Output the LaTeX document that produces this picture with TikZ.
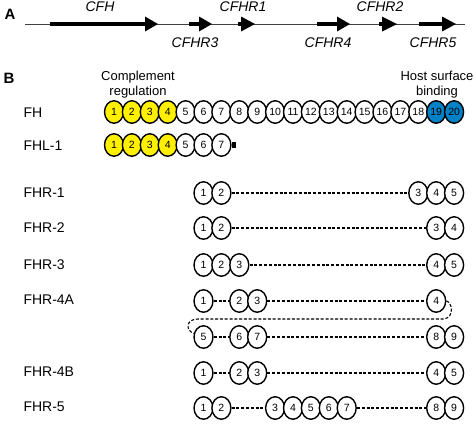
\documentclass[tikz,border=0pt]{standalone}
\usepackage{fontspec}
\setmainfont{Liberation Sans}
\usetikzlibrary{shapes.geometric}
\definecolor{dyel}{RGB}{255,240,0}
\definecolor{dblue}{RGB}{0,130,200}
\begin{document}
\begin{tikzpicture}[x=1pt,y=-1pt,
  dom/.style={ellipse, draw, line width=1.4pt, minimum width=19pt, minimum height=22.5pt, inner sep=0pt, fill=white, font=\fontsize{10.5}{11}\selectfont},
  ydom/.style={dom, fill=dyel},
  bdom/.style={dom, fill=dblue},
  lbl/.style={anchor=west, font=\fontsize{14}{16}\selectfont},
  note/.style={align=center, font=\fontsize{13}{15}\selectfont},
  gene/.style={font=\fontsize{14}{16}\selectfont\itshape},
  panel/.style={font=\fontsize{15}{17}\selectfont\bfseries},
  link/.style={line width=1.1pt, dash pattern=on 3pt off 1.8pt},
  genebar/.style={line width=4pt},
  chrom/.style={line width=0.8pt, black!75}]
\useasboundingbox (0,0) rectangle (475,426);

% ---------- Panel A ----------
\node[panel] (pA) at (10,14) {A};
\draw[chrom] (25,24) -- (465,24);
\draw[genebar] (50,24) -- (146,24);
\fill (145,16.5) -- (158,24) -- (145,31.5) -- cycle;
\draw[genebar] (189,24) -- (200,24);
\fill (199,16.5) -- (212,24) -- (199,31.5) -- cycle;
\draw[genebar] (238,24) -- (242,24);
\fill (241,16.5) -- (255,24) -- (241,31.5) -- cycle;
\draw[genebar] (317,24) -- (338,24);
\fill (337,16.5) -- (350,24) -- (337,31.5) -- cycle;
\draw[genebar] (379,24) -- (383,24);
\fill (382,16.5) -- (397,24) -- (382,31.5) -- cycle;
\draw[genebar] (419,24) -- (443,24);
\fill (442,16.5) -- (456,24) -- (442,31.5) -- cycle;
\node[gene] (gCFH) at (100,7) {CFH};
\node[gene] (gR1) at (243,7) {CFHR1};
\node[gene] (gR2) at (380,7) {CFHR2};
\node[gene] (gR3) at (195,43) {CFHR3};
\node[gene] (gR4) at (328,43) {CFHR4};
\node[gene] (gR5) at (433,43) {CFHR5};

% ---------- Panel B ----------
\node[panel] (pB) at (9,78) {B};
\node[note] (cr) at (138,85) {Complement\\regulation};
\node[note] (hs) at (437,85) {Host surface\\binding};

% FH
\node[lbl] (lFH) at (20,113) {FH};
\foreach \i in {1,...,20}{
  \ifnum\i<5 \def\st{ydom}\else\ifnum\i>18 \def\st{bdom}\else\def\st{dom}\fi\fi
  \node[\st] (fh\i) at ({114+(\i-1)*17.9},112) {\i};
}
% FHL-1
\node[lbl] (lFHL) at (20,146) {FHL-1};
\foreach \i in {1,...,7}{
  \ifnum\i<5 \def\st{ydom}\else\def\st{dom}\fi
  \node[\st] (fhl\i) at ({114+(\i-1)*17.9},145) {\i};
}
\node[fill, minimum width=4pt, minimum height=6pt, inner sep=0pt, anchor=west] (fhlend) at (fhl7.east) {};

% FHR-1
\node[lbl] (l1) at (20,193) {FHR-1};
\foreach \s/\t [count=\k] in {6/1,7/2,18/3,19/4,20/5}
  \node[dom] (ra\k) at ({114+(\s-1)*17.9},193) {\t};
\draw[link] (ra2) -- (ra3);

% FHR-2
\node[lbl] (l2) at (20,228) {FHR-2};
\foreach \s/\t [count=\k] in {6/1,7/2,19/3,20/4}
  \node[dom] (rb\k) at ({114+(\s-1)*17.9},228) {\t};
\draw[link] (rb2) -- (rb3);

% FHR-3
\node[lbl] (l3) at (20,265) {FHR-3};
\foreach \s/\t [count=\k] in {6/1,7/2,8/3,19/4,20/5}
  \node[dom] (rc\k) at ({114+(\s-1)*17.9},265) {\t};
\draw[link] (rc3) -- (rc4);

% FHR-4A
\node[lbl] (l4a) at (20,300) {FHR-4A};
\foreach \s/\t [count=\k] in {6/1,8/2,9/3,19/4}
  \node[dom] (rd\k) at ({114+(\s-1)*17.9},301) {\t};
\foreach \s/\t [count=\k] in {6/5,8/6,9/7,19/8,20/9}
  \node[dom] (re\k) at ({114+(\s-1)*17.9},337) {\t};
\draw[link] (rd1) -- (rd2);
\draw[link] (rd3) -- (rd4);
\draw[link] (re1) -- (re2);
\draw[link] (re3) -- (re4);
\coordinate (loopR) at (444,319);
\coordinate (loopL) at (198,319);
\draw[link] (rd4.east) .. controls (452,302) and (455,317) .. (loopR) -- (loopL) .. controls (186,319) and (185,330) .. (re1.160);

% FHR-4B
\node[lbl] (l4b) at (20,372) {FHR-4B};
\foreach \s/\t [count=\k] in {6/1,8/2,9/3,19/4,20/5}
  \node[dom] (rf\k) at ({114+(\s-1)*17.9},373) {\t};
\draw[link] (rf1) -- (rf2);
\draw[link] (rf3) -- (rf4);

% FHR-5
\node[lbl] (l5) at (20,407) {FHR-5};
\foreach \s/\t [count=\k] in {6/1,7/2,10/3,11/4,12/5,13/6,14/7,19/8,20/9}
  \node[dom] (rg\k) at ({114+(\s-1)*17.9},408) {\t};
\draw[link] (rg2) -- (rg3);
\draw[link] (rg7) -- (rg8);
\end{tikzpicture}
\end{document}
